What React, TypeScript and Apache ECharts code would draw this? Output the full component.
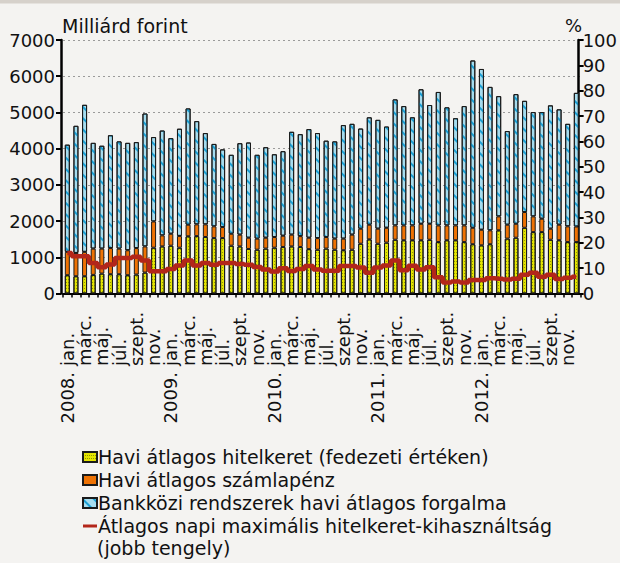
import React, { useEffect, useRef } from "react";
import * as echarts from "echarts";

const years = ["2008.", "2009.", "2010.", "2011.", "2012."];
const months = ["jan.", "febr.", "márc.", "ápr.", "máj.", "jún.", "júl.", "aug.", "szept.", "okt.", "nov.", "dec."];

// Havi átlagos hitelkeret (fedezeti értéken) – milliárd forint
const hitelkeret = [
  505, 477, 477, 514, 550, 532, 532, 505, 523, 578, 1265, 1300,
  1320, 1265, 1580, 1585, 1560, 1530, 1530, 1320, 1300, 1230, 1210, 1240,
  1265, 1285, 1300, 1285, 1225, 1210, 1240, 1210, 1195, 1210, 1375, 1495,
  1375, 1405, 1485, 1470, 1470, 1470, 1485, 1420, 1470, 1470, 1420, 1360,
  1330, 1360, 1745, 1515, 1540, 1815, 1695, 1695, 1485, 1470, 1420, 1420,
];
// Havi átlagos számlapénz – milliárd forint
const szamlapenz = [
  645, 643, 673, 726, 690, 723, 708, 690, 732, 722, 725, 305,
  330, 325, 320, 325, 350, 325, 305, 330, 325, 310, 305, 300,
  295, 310, 325, 300, 315, 320, 320, 305, 320, 415, 415, 405,
  415, 410, 395, 410, 410, 455, 440, 460, 410, 410, 460, 455,
  430, 385, 385, 385, 385, 435, 435, 370, 305, 430, 435, 430,
];
// Bankközi rendszerek havi átlagos forgalma – milliárd forint
const forgalom = [
  2960, 3510, 4060, 2920, 2840, 3115, 2960, 2965, 2925, 3670, 2330, 2895,
  2640, 2960, 3210, 2850, 2520, 2275, 2145, 2180, 2525, 2630, 2315, 2500,
  2285, 2335, 2840, 2815, 3000, 2900, 2660, 2685, 3135, 3060, 2765, 2965,
  3005, 2795, 3480, 3295, 2985, 3715, 3280, 3685, 3260, 2960, 3295, 4620,
  4440, 3960, 3320, 2585, 3580, 3070, 2880, 2945, 3405, 3185, 2830, 3690,
];
// Átlagos napi maximális hitelkeret-kihasználtság – %
const kihasznaltsag = [
  16.0, 14.7, 14.7, 12.0, 10.4, 11.4, 14.0, 14.0, 14.5, 13.0, 8.8, 8.8,
  9.7, 11.0, 13.0, 11.0, 12.0, 11.3, 12.0, 12.0, 11.6, 11.3, 10.5, 9.5,
  8.7, 10.0, 8.9, 9.7, 10.8, 9.5, 9.0, 9.0, 10.8, 10.8, 10.3, 8.2,
  10.3, 11.0, 13.0, 9.2, 10.9, 9.5, 10.4, 6.4, 4.3, 4.7, 4.3, 5.3,
  5.3, 6.0, 5.8, 5.5, 5.8, 7.4, 8.2, 6.6, 7.4, 5.7, 6.2, 6.6,
];

const leftAxis = { min: 0, max: 7000, interval: 1000 };
const rightAxis = { min: 0, max: 100, interval: 10 };

const seriesNames = [
  "Havi átlagos hitelkeret (fedezeti értéken)",
  "Havi átlagos számlapénz",
  "Bankközi rendszerek havi átlagos forgalma",
  "Átlagos napi maximális hitelkeret-kihasználtság",
];

const FONT = '"DejaVu Sans", Verdana, sans-serif';
const TXT = "#111";

export default function App() {
  const ref = useRef<HTMLDivElement>(null);
  useEffect(() => {
    if (!ref.current) return;
    const chart = echarts.init(ref.current, null, { renderer: "svg" });
    const categories: string[] = [];
    const yearLabels: string[] = [];
    years.forEach((y) => {
      months.forEach((m, k) => {
        categories.push(y + " " + m);
        yearLabels.push(k === 0 ? y : "");
      });
    });
    const border = { borderColor: "#1a1a1a", borderWidth: 1 };
    const yellowDecal = {
      symbol: "rect",
      symbolSize: 1,
      color: "rgba(90,100,0,0.6)",
      dashArrayX: [1, 1],
      dashArrayY: [1, 2],
    };
    const blueDecal = {
      symbol: "rect",
      symbolSize: 1,
      color: "#1a9fd4",
      dashArrayX: [1, 0],
      dashArrayY: [1.5, 6],
      rotation: Math.PI / 4,
    };
    chart.setOption({
      animation: false,
      backgroundColor: "#f4f3f1",
      textStyle: { fontFamily: FONT },
      grid: { left: 63, right: 39, top: 40, bottom: 269.5, containLabel: false },
      title: {
        text: "Milliárd forint",
        left: 57,
        top: 11,
        textStyle: { fontFamily: FONT, fontSize: 19, fontWeight: "normal", color: TXT },
      },
      graphic: [
        { type: "rect", left: 0, top: 0, shape: { width: 620, height: 3.5 }, style: { fill: "#d6d1cb" } },
        {
          type: "text",
          left: 565,
          top: 16,
          style: { text: "%", fontFamily: FONT, fontSize: 18, fill: TXT },
        },
        {
          type: "text",
          left: 97,
          top: 538,
          style: { text: "(jobb tengely)", fontFamily: FONT, fontSize: 19, fill: TXT },
        },
      ],
      legend: {
        orient: "vertical",
        left: 77,
        top: 441,
        itemWidth: 14,
        itemHeight: 10,
        itemGap: 1,
        data: [
          { name: seriesNames[0], icon: "rect" },
          { name: seriesNames[1], icon: "rect" },
          { name: seriesNames[2], icon: "rect" },
          {
            name: seriesNames[3],
            icon: "path://M0,0 L0.01,0 M0,3.5 L14,3.5 L14,6.5 L0,6.5 Z M14,10 L13.99,10",
          },
        ],
        textStyle: { fontFamily: FONT, fontSize: 19, color: TXT, lineHeight: 22, padding: [0, 0, 0, -4] },
      },
      xAxis: [
        {
          type: "category",
          data: categories,
          position: "bottom",
          axisLine: { lineStyle: { color: "#000", width: 2 } },
          axisTick: { show: true, interval: 0, length: 4, lineStyle: { color: "#000", width: 1.5 } },
          axisLabel: {
            interval: 0,
            rotate: 90,
            align: "left",
            margin: 72.5,
            hideOverlap: false,
            fontFamily: FONT,
            fontSize: 18,
            color: TXT,
            formatter: (v: string, idx: number) => (idx % 2 === 0 ? v.split(" ")[1] : ""),
          },
        },
        {
          type: "category",
          data: yearLabels,
          position: "bottom",
          axisLine: { show: false },
          axisTick: { show: false },
          axisLabel: {
            interval: 0,
            rotate: 90,
            align: "left",
            margin: 130,
            hideOverlap: false,
            fontFamily: FONT,
            fontSize: 18,
            color: TXT,
          },
        },
      ],
      yAxis: [
        {
          type: "value",
          ...leftAxis,
          offset: 2,
          axisLine: { show: true, lineStyle: { color: "#000", width: 2.5 } },
          axisTick: { show: true, length: 5, lineStyle: { color: "#000", width: 2 } },
          axisLabel: {
            margin: 6,
            fontFamily: FONT,
            fontSize: 18,
            color: TXT,
            formatter: (v: number) => String(v),
          },
          splitLine: { show: true, lineStyle: { type: [2, 3], color: "#9a9a9a", width: 1 } },
        },
        {
          type: "value",
          ...rightAxis,
          position: "right",
          offset: -2,
          axisLine: { show: true, lineStyle: { color: "#000", width: 2.5 } },
          axisTick: { show: true, length: 5, lineStyle: { color: "#000", width: 2 } },
          axisLabel: { margin: 4, fontFamily: FONT, fontSize: 18, color: TXT },
          splitLine: { show: false },
        },
      ],
      series: [
        {
          name: seriesNames[0],
          type: "bar",
          stack: "total",
          barWidth: 5,
          data: hitelkeret,
          itemStyle: { color: "#e4e400", ...border, decal: yellowDecal },
        },
        {
          name: seriesNames[1],
          type: "bar",
          stack: "total",
          barWidth: 5,
          data: szamlapenz,
          itemStyle: { color: "#ee7203", ...border },
        },
        {
          name: seriesNames[2],
          type: "bar",
          stack: "total",
          barWidth: 5,
          data: forgalom,
          itemStyle: { color: "#a6dcee", ...border, decal: blueDecal },
        },
        {
          name: seriesNames[3],
          type: "line",
          yAxisIndex: 1,
          step: "middle",
          symbol: "none",
          data: kihasznaltsag,
          lineStyle: { color: "#b3261a", width: 4.5 },
          itemStyle: { color: "#b3261a", borderWidth: 0 },
          z: 5,
        },
      ],
    });
    return () => chart.dispose();
  }, []);
  return (
    <div
      ref={ref}
      style={{ position: "absolute", left: 0, top: 0, width: 620, height: 563 }}
    />
  );
}
